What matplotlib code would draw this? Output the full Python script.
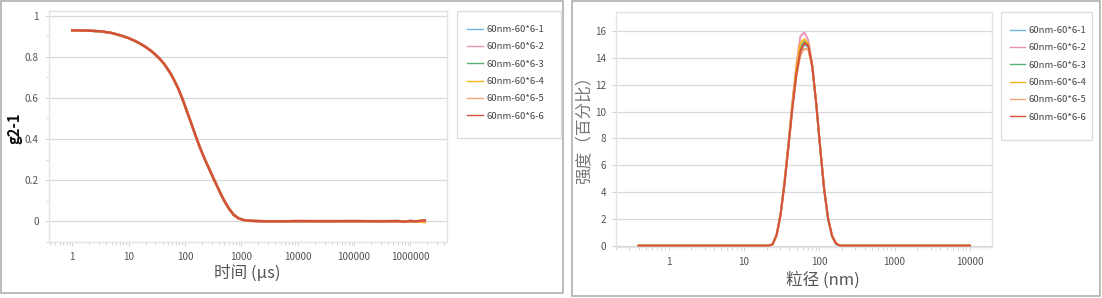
import matplotlib.pyplot as plt
import matplotlib.ticker as mticker
from matplotlib.patches import Rectangle

plt.rcParams['font.family'] = ['Noto Sans CJK SC', 'DejaVu Sans']

labels = ['60nm-60*6-1', '60nm-60*6-2', '60nm-60*6-3',
          '60nm-60*6-4', '60nm-60*6-5', '60nm-60*6-6']
colors = ['#6bb8dc', '#ea93b6', '#55b273', '#f5b31c', '#f4a277', '#d4503a']

# correlation curve (time in us)
t_us = [1, 2, 3.2, 5, 7.2, 10, 13, 16.3, 20, 25, 30, 36, 43, 50, 57, 65, 75, 89, 100, 115,
        130, 153, 180, 210, 240, 280, 324, 380, 440, 510, 600, 733, 900, 1100, 1500, 2000,
        3000, 5000,
        10000, 30000, 100000, 300000, 600000, 800000, 1000000, 1200000, 1500000, 1800000]
g2_main = [0.930, 0.928, 0.925, 0.917, 0.905, 0.892, 0.878, 0.864, 0.849, 0.830, 0.811,
           0.790, 0.765, 0.739, 0.714, 0.684, 0.650, 0.600, 0.562, 0.515, 0.475, 0.419,
           0.366, 0.321, 0.284, 0.244, 0.205, 0.165, 0.128, 0.094, 0.062, 0.030, 0.013,
           0.005, 0.001, 0.000, -0.001, -0.001]
# noisy baseline tails of the six runs (10000 us .. 1800000 us)
g2_tail = [
    [0.000, -0.001, 0.000, -0.001, 0.000, -0.002, 0.001, -0.001, 0.001, 0.002],
    [0.000, 0.000, -0.001, 0.000, -0.001, -0.002, 0.000, -0.002, -0.001, 0.001],
    [-0.001, 0.000, 0.000, -0.001, 0.001, -0.003, -0.001, 0.000, -0.002, -0.001],
    [0.000, -0.001, -0.001, -0.002, -0.001, -0.004, -0.002, -0.003, -0.004, -0.005],
    [0.000, 0.000, 0.000, 0.000, -0.001, -0.002, 0.000, -0.001, 0.000, 0.001],
    [0.000, -0.001, 0.000, -0.001, 0.000, -0.003, 0.001, -0.002, 0.002, 0.003],
]

# size distribution (nm)
size_nm = [0.4, 1, 10, 19, 21.3, 24.0, 27.1, 30.6, 34.5, 39.0, 44.0, 49.7, 56.1, 63.3, 71.5,
           80.7, 91.1, 102.8, 116.1, 131.1, 148.0, 167.1, 188.6, 300, 1000, 10000]
intensity = [
    [0, 0, 0, 0, 0, 0.1, 0.8, 2.3, 4.6, 7.4, 10.3, 12.8, 14.5, 15.0, 14.8, 13.3, 10.5, 7.2, 4.1, 1.9, 0.7, 0.1, 0, 0, 0, 0],
    [0, 0, 0, 0, 0, 0.1, 0.8, 2.4, 4.8, 7.7, 10.8, 13.5, 15.6, 15.9, 15.3, 13.5, 10.6, 7.3, 4.2, 2.0, 0.7, 0.15, 0, 0, 0, 0],
    [0, 0, 0, 0, 0, 0.1, 0.8, 2.3, 4.7, 7.5, 10.5, 13.1, 14.8, 15.2, 14.9, 13.4, 10.6, 7.3, 4.2, 2.0, 0.7, 0.15, 0, 0, 0, 0],
    [0, 0, 0, 0, 0, 0.1, 0.8, 2.3, 4.7, 7.6, 10.6, 13.3, 15.1, 15.4, 15.0, 13.4, 10.6, 7.3, 4.2, 2.0, 0.7, 0.15, 0, 0, 0, 0],
    [0, 0, 0, 0, 0, 0.1, 0.7, 2.2, 4.5, 7.3, 10.2, 12.6, 14.2, 14.7, 14.6, 13.3, 10.6, 7.4, 4.3, 2.1, 0.8, 0.2, 0, 0, 0, 0],
    [0, 0, 0, 0, 0, 0.1, 0.8, 2.3, 4.6, 7.4, 10.3, 12.8, 14.5, 15.1, 14.9, 13.4, 10.6, 7.3, 4.2, 2.0, 0.7, 0.15, 0, 0, 0, 0],
]

W, H = 1102, 298
fig = plt.figure(figsize=(W / 100, H / 100), dpi=100)

def fx(px):
    return px / W

def fy(py):
    return 1 - py / H

def box(x0, y0, x1, y1, col, lw):
    fig.patches.append(Rectangle((fx(x0), fy(y1)), fx(x1 - x0), (y1 - y0) / H,
                                 transform=fig.transFigure, fill=False,
                                 edgecolor=col, linewidth=lw))

# panel frames
box(1, 1, 563, 293, '#b0b0b0', 1.2)
box(572, 1, 1100, 296, '#b0b0b0', 1.2)
# legend frames
box(457, 11, 561, 138, '#dcdcdc', 0.9)
box(1001, 12, 1092, 140, '#dcdcdc', 0.9)

tick_col = '#555555'
grid_col = '#d9d9d9'

def style_axes(ax):
    ax.set_xscale('log')
    for s in ax.spines.values():
        s.set_color('#e3e3e3')
        s.set_linewidth(1.0)
    ax.grid(axis='y', color=grid_col, linewidth=0.9)
    ax.set_axisbelow(True)
    ax.tick_params(axis='both', which='both', colors='#cccccc', labelcolor=tick_col,
                   labelsize=7.2, length=3, width=0.6, pad=4)
    ax.tick_params(axis='both', which='minor', length=2)
    ax.xaxis.set_major_formatter(mticker.FuncFormatter(lambda v, p: '%d' % round(v)))
    ax.xaxis.set_minor_formatter(mticker.NullFormatter())

def add_legend(ax, x, y, hl):
    leg = ax.legend(loc='upper left', bbox_to_anchor=(fx(x), fy(y)), bbox_transform=fig.transFigure,
                    fontsize=6.9, frameon=False, borderpad=0, borderaxespad=0,
                    handlelength=hl, handletextpad=0.4, labelspacing=0.87, labelcolor='#444444')
    for h in leg.legend_handles:
        h.set_linewidth(1.0)

# left panel
ax1 = fig.add_axes([fx(48.5), fy(242), fx(447.3 - 48.5), (242 - 11) / H])
style_axes(ax1)
for i in range(6):
    ax1.plot(t_us, g2_main + g2_tail[i], color=colors[i], lw=1.7, label=labels[i])
ax1.set_xlim(0.38, 4.5e6)
ax1.set_ylim(-0.102, 1.024)
ax1.set_xticks([1, 10, 100, 1000, 10000, 100000, 1000000])
ax1.set_yticks([0, 0.2, 0.4, 0.6, 0.8, 1])
ax1.set_yticklabels(['0', '0.2', '0.4', '0.6', '0.8', '1'])
ax1.yaxis.set_minor_locator(mticker.MultipleLocator(0.1))
add_legend(ax1, 466.6, 25, 1.7)
fig.text(fx(247), fy(273), '时间 (μs)', fontsize=12, color=tick_col, ha='center', va='center')
fig.text(fx(14), fy(128), 'g2-1', fontsize=10.5, color='#111111', fontweight='bold',
         rotation=90, ha='center', va='center')

# right panel
ax2 = fig.add_axes([fx(616), fy(247), fx(992 - 616), (247 - 12) / H])
style_axes(ax2)
for i in range(6):
    ax2.plot(size_nm, intensity[i], color=colors[i], lw=1.4, label=labels[i])
ax2.set_xlim(0.2, 1.965e4)
ax2.set_ylim(-0.1, 17.42)
ax2.set_xticks([1, 10, 100, 1000, 10000])
ax2.set_yticks(range(0, 17, 2))
add_legend(ax2, 1009.5, 26, 1.6)
fig.text(fx(823), fy(280), '粒径 (nm)', fontsize=12, color=tick_col, ha='center', va='center')
fig.text(fx(584), fy(126), '强度（百分比）', fontsize=12, color='#777777',
         rotation=90, ha='center', va='center')

fig.savefig('out.png', dpi=100)
